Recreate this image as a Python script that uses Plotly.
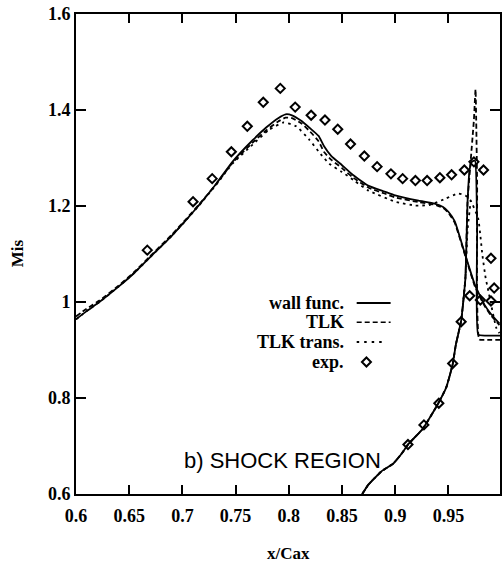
import plotly.graph_objects as go

# ---------------- data ----------------
wall_upper_x = [0.600, 0.610, 0.622, 0.640, 0.655, 0.669, 0.690, 0.704, 0.716, 0.732, 0.747, 0.766, 0.779, 0.790, 0.797, 0.803, 0.812, 0.820, 0.828, 0.833, 0.840, 0.850, 0.860, 0.875, 0.890, 0.900, 0.922, 0.937, 0.945, 0.950, 0.956, 0.966, 0.975, 0.984, 0.990, 0.998]
wall_upper_y = [0.964, 0.981, 1.000, 1.032, 1.061, 1.092, 1.138, 1.172, 1.203, 1.247, 1.292, 1.337, 1.364, 1.383, 1.391, 1.389, 1.377, 1.362, 1.346, 1.325, 1.304, 1.285, 1.265, 1.242, 1.230, 1.222, 1.211, 1.205, 1.198, 1.188, 1.168, 1.097, 1.035, 0.994, 0.975, 0.955]
wall_lower_x = [0.869, 0.875, 0.887, 0.898, 0.906, 0.912, 0.926, 0.940, 0.948, 0.954, 0.957, 0.962, 0.966, 0.968, 0.970, 0.972, 0.975, 0.977, 0.978, 0.985, 1.000]
wall_lower_y = [0.600, 0.620, 0.647, 0.663, 0.684, 0.703, 0.736, 0.787, 0.822, 0.870, 0.911, 0.961, 1.050, 1.209, 1.277, 1.292, 1.295, 1.150, 0.932, 0.930, 0.930]

tlk_upper_x = wall_upper_x
tlk_upper_y = [0.970, 0.986, 1.003, 1.034, 1.063, 1.094, 1.140, 1.174, 1.204, 1.246, 1.290, 1.332, 1.358, 1.376, 1.384, 1.383, 1.372, 1.355, 1.335, 1.313, 1.296, 1.279, 1.260, 1.238, 1.226, 1.218, 1.208, 1.203, 1.196, 1.186, 1.165, 1.095, 1.032, 0.992, 0.972, 0.952]
tlk_lower_x = [0.869, 0.875, 0.887, 0.898, 0.906, 0.912, 0.926, 0.940, 0.948, 0.954, 0.957, 0.962, 0.966, 0.968, 0.974, 0.9755, 0.977, 0.979, 0.985, 1.000]
tlk_lower_y = [0.600, 0.620, 0.647, 0.663, 0.684, 0.703, 0.736, 0.787, 0.822, 0.870, 0.911, 0.961, 1.050, 1.209, 1.380, 1.443, 1.250, 0.922, 0.921, 0.921]

tlkt_upper_x = [0.600, 0.610, 0.622, 0.640, 0.655, 0.669, 0.690, 0.704, 0.716, 0.732, 0.747, 0.766, 0.781, 0.795, 0.807, 0.819, 0.830, 0.838, 0.850, 0.862, 0.875, 0.900, 0.919, 0.932, 0.947, 0.959, 0.966, 0.971, 0.978, 0.980, 0.982, 0.985, 0.987, 0.995, 0.998]
tlkt_upper_y = [0.964, 0.981, 1.000, 1.032, 1.061, 1.092, 1.138, 1.172, 1.202, 1.245, 1.288, 1.328, 1.358, 1.374, 1.366, 1.339, 1.308, 1.288, 1.271, 1.252, 1.232, 1.209, 1.201, 1.202, 1.215, 1.226, 1.222, 1.211, 1.174, 1.139, 1.097, 1.050, 1.029, 0.946, 0.935]
tlkt_lower_x = [0.869, 0.875, 0.887, 0.898, 0.906, 0.912, 0.926, 0.940, 0.948, 0.954, 0.957, 0.962, 0.966, 0.968, 0.971]
tlkt_lower_y = [0.600, 0.620, 0.647, 0.663, 0.684, 0.703, 0.736, 0.787, 0.822, 0.870, 0.911, 0.961, 1.050, 1.150, 1.211]

exp_x = [0.667, 0.710, 0.728, 0.746, 0.761, 0.776, 0.792, 0.806, 0.821, 0.834, 0.846, 0.858, 0.871, 0.883, 0.896, 0.907, 0.919, 0.930, 0.942, 0.953, 0.965, 0.974, 0.983, 0.990, 0.993,
         0.912, 0.927, 0.941, 0.954, 0.962, 0.970, 0.980, 0.990]
exp_y = [1.108, 1.209, 1.257, 1.313, 1.366, 1.416, 1.445, 1.406, 1.389, 1.379, 1.360, 1.329, 1.304, 1.282, 1.267, 1.257, 1.253, 1.253, 1.259, 1.265, 1.275, 1.292, 1.275, 1.091, 1.029,
         0.703, 0.744, 0.789, 0.872, 0.959, 1.013, 1.004, 1.002]

x_ticks = [0.6, 0.65, 0.7, 0.75, 0.8, 0.85, 0.9, 0.95, 1.0]
x_tick_text = ["0.6", "0.65", "0.7", "0.75", "0.8", "0.85", "0.9", "0.95", "1"]
y_ticks = [0.6, 0.8, 1.0, 1.2, 1.4, 1.6]
y_tick_text = ["0.6", "0.8", "1", "1.2", "1.4", "1.6"]

legend_names = ["wall func.", "TLK", "TLK trans.", "exp."]

# ---------------- figure ----------------
SERIF = "Liberation Serif, Times New Roman, serif"
BLK = "black"

fig = go.Figure()

def line(x, y, dash):
    fig.add_trace(go.Scatter(x=x, y=y, mode="lines", showlegend=False,
                             line=dict(color=BLK, width=1.8, dash=dash, shape="spline", smoothing=0.4)))

line(wall_upper_x, wall_upper_y, "solid")
line(wall_lower_x, wall_lower_y, "solid")
line(tlk_upper_x, tlk_upper_y, "5px,3px")
line(tlk_lower_x, tlk_lower_y, "5px,3px")
line(tlkt_upper_x, tlkt_upper_y, "2.5px,4px")
line(tlkt_lower_x, tlkt_lower_y, "2.5px,4px")

fig.add_trace(go.Scatter(x=exp_x, y=exp_y, mode="markers", showlegend=False,
                         marker=dict(symbol="diamond-open", size=7, color=BLK,
                                     line=dict(color=BLK, width=2))))

# manual legend (text to the left of the samples)
leg_text_x = 0.636
leg_y = [0.398, 0.358, 0.3167, 0.275]
sample_x0, sample_x1 = 0.662, 0.742
for i, name in enumerate(legend_names):
    fig.add_annotation(x=leg_text_x, y=leg_y[i], xref="paper", yref="paper",
                       text=name, showarrow=False, xanchor="right", yanchor="middle",
                       font=dict(family=SERIF, size=18, color=BLK, weight="bold"))
fig.add_shape(type="line", xref="paper", yref="paper", x0=sample_x0, x1=sample_x1,
              y0=leg_y[0], y1=leg_y[0], line=dict(color=BLK, width=2))
fig.add_shape(type="line", xref="paper", yref="paper", x0=sample_x0, x1=sample_x1,
              y0=leg_y[1], y1=leg_y[1], line=dict(color=BLK, width=1.5, dash="5px,3px"))
fig.add_shape(type="line", xref="paper", yref="paper", x0=sample_x0, x1=sample_x1 - 0.012,
              y0=leg_y[2], y1=leg_y[2], line=dict(color=BLK, width=1.8, dash="2.5px,5px"))
fig.add_shape(type="path", xref="paper", yref="paper", xsizemode="pixel", ysizemode="pixel",
              xanchor=0.685, yanchor=leg_y[3], path="M -4.5 0 L 0 4.5 L 4.5 0 L 0 -4.5 Z",
              line=dict(color=BLK, width=2))

# texts
fig.add_annotation(x=0.486, y=0.069, xref="paper", yref="paper", text="b) SHOCK REGION",
                   showarrow=False, xanchor="center", yanchor="middle",
                   font=dict(family="Liberation Sans, Arial, sans-serif", size=22, color=BLK))
fig.add_annotation(x=-0.1385, y=0.502, xref="paper", yref="paper", text="Mis", textangle=-90,
                   showarrow=False, xanchor="center", yanchor="middle",
                   font=dict(family=SERIF, size=17, color=BLK, weight="bold"))
fig.add_annotation(x=0.502, y=-0.123, xref="paper", yref="paper", text="x/Cax",
                   showarrow=False, xanchor="center", yanchor="middle",
                   font=dict(family=SERIF, size=17, color=BLK, weight="bold"))

axis_common = dict(showgrid=False, zeroline=False, showline=True, linecolor=BLK, linewidth=2,
                   mirror="ticks", ticks="inside", tickcolor=BLK, tickwidth=1.5,
                   tickfont=dict(family=SERIF, size=18, color=BLK, weight="bold"))

fig.update_layout(
    width=502, height=565,
    margin=dict(l=76, r=0, t=14, b=71),
    paper_bgcolor="white", plot_bgcolor="white",
    xaxis=dict(range=[0.6, 0.9985], tickvals=x_ticks, ticktext=x_tick_text, ticklen=9,
               ticklabelstandoff=4, **axis_common),
    yaxis=dict(range=[0.6, 1.6], tickvals=y_ticks, ticktext=y_tick_text, ticklen=10, **axis_common),
)

fig.write_html("out.html")
